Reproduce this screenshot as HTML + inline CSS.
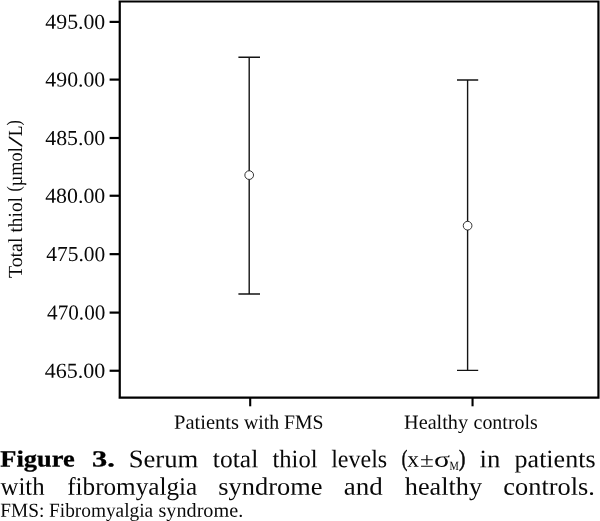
<!DOCTYPE html>
<html lang="en">
<head>
<meta charset="utf-8">
<title>Figure 3. Serum total thiol levels</title>
<style>
html,body{margin:0;padding:0;background:#fff;}
body{width:600px;height:521px;overflow:hidden;}
svg{display:block;font-family:"Liberation Serif",serif;}
</style>
</head>
<body>
<svg width="600" height="521" viewBox="0 0 600 521">
<rect x="0" y="0" width="600" height="521" fill="#fff"/>
<path d="M119.75 0.4 V398.7 M118.6 1.5 H599.5 M598.45 0.4 V398.7 M118.6 397.6 H599.5" fill="none" stroke="#000" stroke-width="2.2"/>
<line x1="109.6" y1="21.9" x2="119" y2="21.9" stroke="#000" stroke-width="2.2"/>
<line x1="109.6" y1="79.6" x2="119" y2="79.6" stroke="#000" stroke-width="2.2"/>
<line x1="109.6" y1="138.0" x2="119" y2="138.0" stroke="#000" stroke-width="2.2"/>
<line x1="109.6" y1="195.75" x2="119" y2="195.75" stroke="#000" stroke-width="2.2"/>
<line x1="109.6" y1="254.15" x2="119" y2="254.15" stroke="#000" stroke-width="2.2"/>
<line x1="109.6" y1="312.6" x2="119" y2="312.6" stroke="#000" stroke-width="2.2"/>
<line x1="109.6" y1="370.75" x2="119" y2="370.75" stroke="#000" stroke-width="2.2"/>
<line x1="250.2" y1="398" x2="250.2" y2="406.3" stroke="#000" stroke-width="2.1"/>
<line x1="472.55" y1="398" x2="472.55" y2="406.3" stroke="#000" stroke-width="2.1"/>
<path d="M249.2 57.25 V293.95 M238.4 57.25 H260 M238.4 293.95 H260" fill="none" stroke="#141414" stroke-width="1.4"/>
<circle cx="249.2" cy="175.1" r="4.35" fill="#fff" stroke="#1e1e1e" stroke-width="0.9"/>
<path d="M467.6 79.95 V370.4 M457 79.95 H478.2 M457 370.4 H478.2" fill="none" stroke="#141414" stroke-width="1.4"/>
<circle cx="467.6" cy="225.7" r="4.35" fill="#fff" stroke="#1e1e1e" stroke-width="0.9"/>
<g id="y-tick-labels">
  <text transform="translate(45.36 28.85) rotate(0.03) scale(1.0232 1)" font-size="21.3" fill="#080808">495.00</text>
  <text transform="translate(45.36 86.55) rotate(0.03) scale(1.0226 1)" font-size="21.3" fill="#080808">490.00</text>
  <text transform="translate(45.22 144.95) rotate(0.03) scale(1.0256 1)" font-size="21.3" fill="#080808">485.00</text>
  <text transform="translate(45.14 202.70) rotate(0.03) scale(1.0274 1)" font-size="21.3" fill="#080808">480.00</text>
  <text transform="translate(46.36 261.10) rotate(0.03) scale(1.0069 1)" font-size="21.3" fill="#080808">475.00</text>
  <text transform="translate(47.07 319.55) rotate(0.03) scale(0.9947 1)" font-size="21.3" fill="#080808">470.00</text>
  <text transform="translate(44.83 377.70) rotate(0.03) scale(1.0337 1)" font-size="21.3" fill="#080808">465.00</text>
</g>
<g id="y-axis-title" transform="translate(21.9 278.3) rotate(-90)">
  <text transform="translate(0.20 0.00) rotate(0.03) scale(0.9932 1)" font-size="20.0" fill="#080808">Total</text>
  <text transform="translate(45.76 0.00) rotate(0.03) scale(0.9685 1)" font-size="20.0" fill="#080808">thiol</text>
  <text transform="translate(86.89 -1.50) rotate(0.03) scale(0.8200 1)" font-size="19.3" fill="#080808">(</text>
  <text transform="translate(92.11 0.00) rotate(0.03) scale(0.9157 1)" font-size="20.0" fill="#080808">µmol</text>
  <text transform="translate(131.40 0.00) rotate(0.03) scale(1.9818 1)" font-size="20.0" fill="#080808">/</text>
  <text transform="translate(141.96 0.00) rotate(0.03) scale(0.8762 1)" font-size="20.0" fill="#080808">L</text>
  <text transform="translate(152.89 -1.50) rotate(0.03) scale(0.8200 1)" font-size="19.3" fill="#080808">)</text>
</g>
<g id="x-tick-labels">
  <text transform="translate(173.97 428.70) rotate(0.03) scale(1.0217 1)" font-size="20.1" fill="#080808">Patients</text>
  <text transform="translate(244.02 428.70) rotate(0.03) scale(0.9857 1)" font-size="20.1" fill="#080808">with</text>
  <text transform="translate(283.99 428.70) rotate(0.03) scale(0.9804 1)" font-size="20.1" fill="#080808">FMS</text>
  <text transform="translate(404.06 428.70) rotate(0.03) scale(1.0069 1)" font-size="20.1" fill="#080808">Healthy</text>
  <text transform="translate(473.54 428.70) rotate(0.03) scale(0.9930 1)" font-size="20.1" fill="#080808">controls</text>
</g>
<g id="caption">
  <text transform="translate(0.28 466.50) rotate(0.03) scale(1.1395 1)" font-size="23.2" font-weight="bold" fill="#000" stroke="#000" stroke-width="0.3">Figure</text>
  <text transform="translate(91.98 466.50) rotate(0.03) scale(1.3106 1)" font-size="23.2" font-weight="bold" fill="#000" stroke="#000" stroke-width="0.3">3.</text>
  <text transform="translate(128.67 467.30) rotate(0.03) scale(1.0594 1)" font-size="25.2" fill="#080808">Serum</text>
  <text transform="translate(212.87 467.30) rotate(0.03) scale(1.0130 1)" font-size="25.2" fill="#080808">total</text>
  <text transform="translate(272.46 467.30) rotate(0.03) scale(0.9759 1)" font-size="25.2" fill="#080808">thiol</text>
  <text transform="translate(331.16 467.30) rotate(0.03) scale(0.9532 1)" font-size="25.2" fill="#080808">levels</text>
  <text transform="translate(401.78 466.20) rotate(0.03) scale(0.7167 1)" font-size="23.2" fill="#080808" stroke="#080808" stroke-width="0.6">(</text>
  <text transform="translate(407.35 466.80) rotate(0.03) scale(1.0182 1)" font-size="23.0" fill="#080808">x</text>
  <text transform="translate(420.10 466.80) rotate(0.03) scale(1.2000 1)" font-size="21.0" fill="#080808">±</text>
  <text transform="translate(434.01 466.80) rotate(0.03) scale(1.3182 1)" font-size="22.5" fill="#080808">σ</text>
  <text transform="translate(449.39 469.50) rotate(0.03) scale(0.8381 1)" font-size="12.5" fill="#080808">M</text>
  <text transform="translate(458.99 466.20) rotate(0.03) scale(0.8167 1)" font-size="23.2" fill="#080808" stroke="#080808" stroke-width="0.6">)</text>
  <text transform="translate(479.47 467.30) rotate(0.03) scale(1.0605 1)" font-size="25.2" fill="#080808">in</text>
  <text transform="translate(514.59 467.30) rotate(0.03) scale(1.0325 1)" font-size="25.2" fill="#080808">patients</text>
  <text transform="translate(0.58 494.80) rotate(0.03) scale(0.9835 1)" font-size="25.2" fill="#080808">with</text>
  <text transform="translate(67.14 494.80) rotate(0.03) scale(1.0005 1)" font-size="25.2" fill="#080808">fibromyalgia</text>
  <text transform="translate(218.35 494.80) rotate(0.03) scale(1.0478 1)" font-size="25.2" fill="#080808">syndrome</text>
  <text transform="translate(343.79 494.80) rotate(0.03) scale(1.0713 1)" font-size="25.2" fill="#080808">and</text>
  <text transform="translate(404.83 494.80) rotate(0.03) scale(1.0412 1)" font-size="25.2" fill="#080808">healthy</text>
  <text transform="translate(503.36 494.80) rotate(0.03) scale(1.0469 1)" font-size="25.2" fill="#080808">controls.</text>
  <text transform="translate(0.35 516.80) rotate(0.03) scale(0.9741 1)" font-size="19.8" fill="#080808">FMS:</text>
  <text transform="translate(49.01 516.80) rotate(0.03) scale(0.9772 1)" font-size="19.8" fill="#080808">Fibromyalgia</text>
  <text transform="translate(158.46 516.80) rotate(0.03) scale(1.0208 1)" font-size="19.8" fill="#080808">syndrome.</text>
</g>
</svg>
</body>
</html>
